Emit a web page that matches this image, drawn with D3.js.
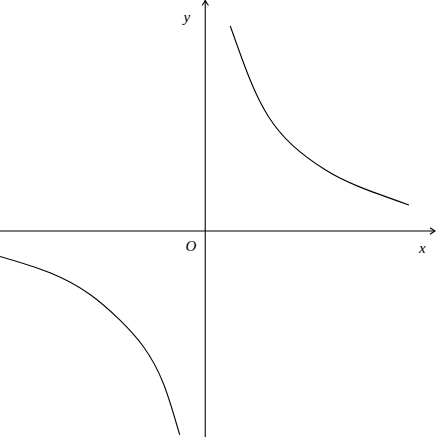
<!DOCTYPE html>
<html>
<head>
<meta charset="utf-8">
<title>hyperbola sketch</title>
<script src="https://cdn.jsdelivr.net/npm/d3@7/dist/d3.min.js"></script>
<style>
  body { margin: 0; background: #fff; }
  .axis { stroke: #000; stroke-width: 1.1px; fill: none; }
  .curve { stroke: #000; stroke-width: 1.1px; fill: none; }
  .lbl { font-family: "Liberation Serif", "DejaVu Serif", serif; font-style: italic; font-size: 15px; }
</style>
</head>
<body>
<script>
var width = 436, height = 437;

// points (axis units)
var upperX = [0.49, 0.88, 1.24, 1.70, 2.35, 3.01, 3.99];
var upperY = [4.02, 2.96, 2.24, 1.69, 1.20, 0.87, 0.51];
var lowerX = [-4.02, -3.04, -2.25, -1.67, -1.21, -0.82, -0.50];
var lowerY = [-0.50, -0.82, -1.25, -1.75, -2.27, -2.99, -4.00];
var xDomain = [-4.02, 4.5];
var yDomain = [-4.04, 4.53];
var labels = [{t: "x", x: 4.25, y: -0.33}, {t: "y", x: -0.36, y: 4.2}, {t: "O", x: -0.28, y: -0.3}];

var x = d3.scaleLinear().domain(xDomain).range([0, 435]);
var y = d3.scaleLinear().domain(yDomain).range([437, 0]);

var svg = d3.select("body").append("svg").attr("width", width).attr("height", height);

function arrow(g, px, py, angle) {
  g.append("path")
    .attr("class", "axis")
    .attr("d", "M-5,-3.2 Q-1.5,-0.8 0,0 Q-1.5,0.8 -5,3.2")
    .attr("transform", "translate(" + px + "," + py + ") rotate(" + angle + ")");
}

// axes
svg.append("line").attr("class", "axis")
  .attr("x1", x(xDomain[0])).attr("x2", x(xDomain[1]) - 0.5)
  .attr("y1", y(0)).attr("y2", y(0));
arrow(svg, x(xDomain[1]), y(0), 0);
svg.append("line").attr("class", "axis")
  .attr("x1", x(0)).attr("x2", x(0))
  .attr("y1", y(yDomain[0])).attr("y2", y(yDomain[1]) + 0.5);
arrow(svg, x(0), y(yDomain[1]) + 0.5, -90);

var line = d3.line()
  .x(function(d) { return x(d[0]); })
  .y(function(d) { return y(d[1]); })
  .curve(d3.curveNatural);
svg.append("path").attr("class", "curve").attr("d", line(d3.zip(upperX, upperY)));
svg.append("path").attr("class", "curve").attr("d", line(d3.zip(lowerX, lowerY)));

svg.selectAll("text.lbl").data(labels).enter().append("text")
  .attr("class", "lbl")
  .attr("x", function(d) { return x(d.x); })
  .attr("y", function(d) { return y(d.y); })
  .attr("text-anchor", "middle")
  .attr("dominant-baseline", "central")
  .text(function(d) { return d.t; });
</script>
</body>
</html>
